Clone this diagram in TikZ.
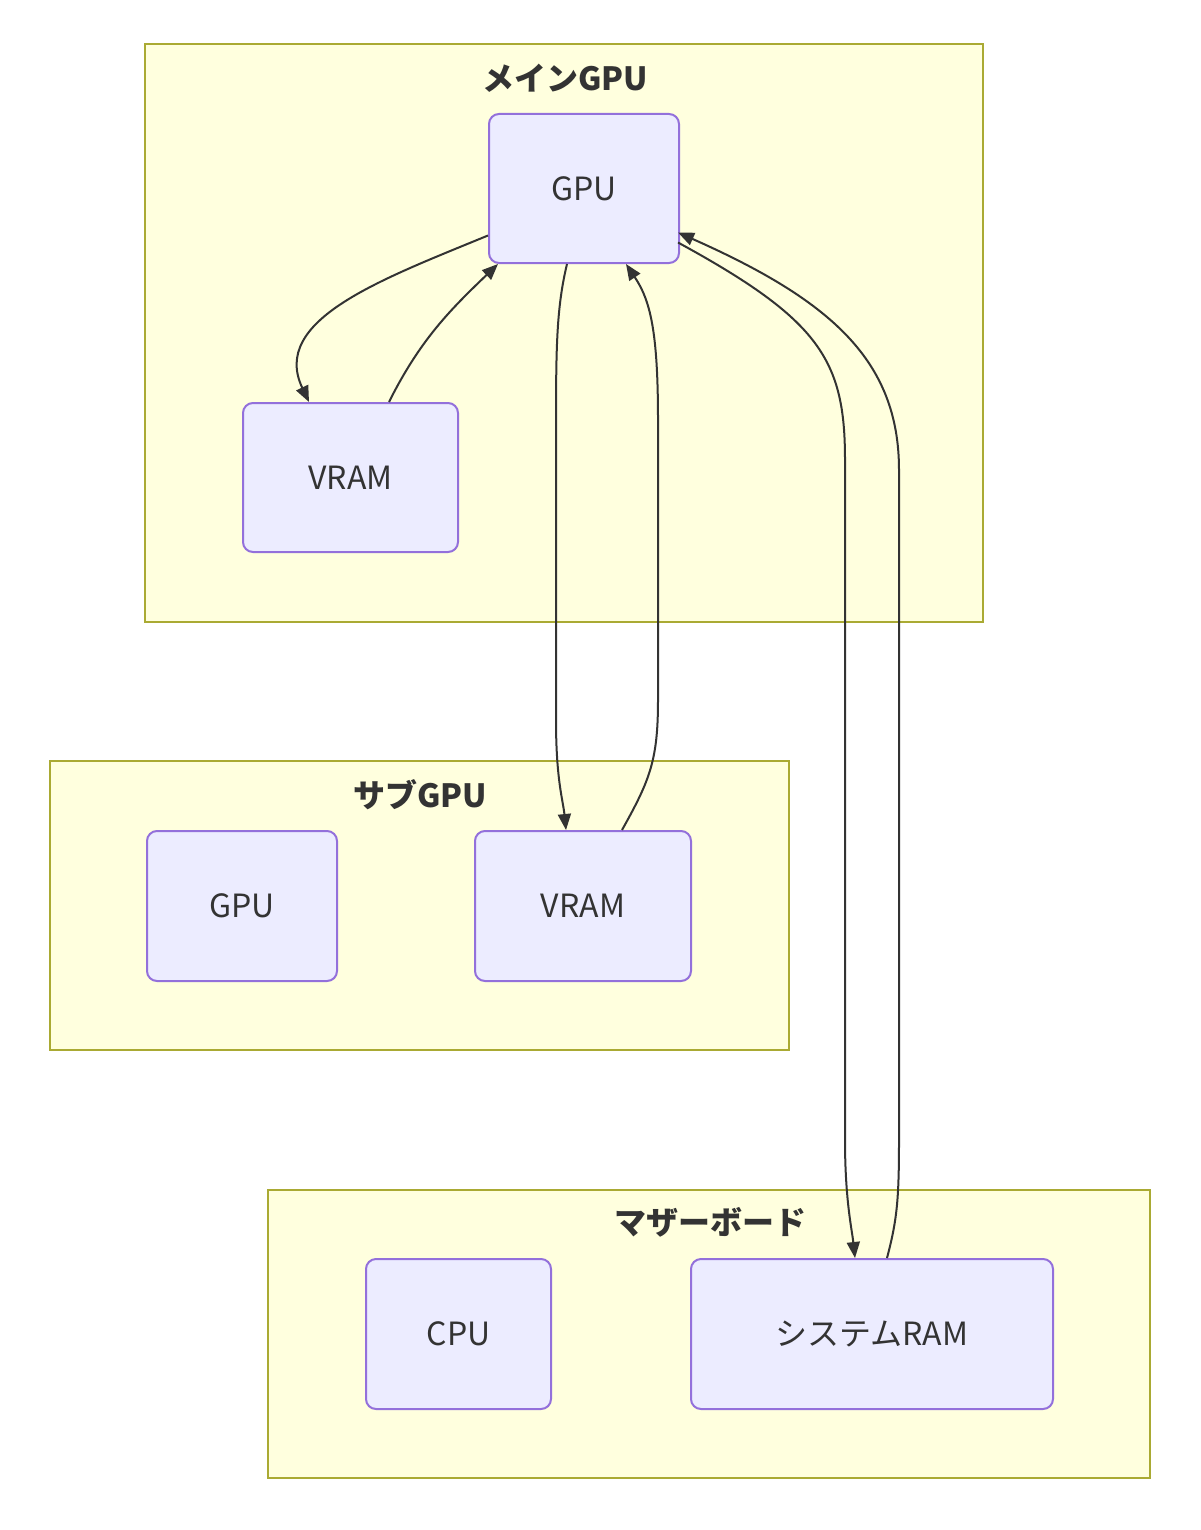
\documentclass[tikz,border=0pt]{standalone}
\usepackage{fontspec}
\setmainfont{Noto Sans CJK JP}
\usetikzlibrary{calc,arrows.meta}
\definecolor{nfill}{HTML}{ECECFF}
\definecolor{nstroke}{HTML}{9370DB}
\definecolor{cfill}{HTML}{FFFFDE}
\definecolor{cstroke}{HTML}{AAAA33}
\definecolor{txt}{HTML}{333333}
\begin{document}
\begin{tikzpicture}[x=1pt,y=-1pt,
  box/.style={draw=nstroke,fill=nfill,line width=2pt,rounded corners=10pt,inner sep=0pt,font=\fontsize{32}{36}\selectfont,text=txt},
  clus/.style={draw=cstroke,fill=cfill,line width=2pt},
  ctitle/.style={font=\fontsize{32}{36}\selectfont\bfseries,text=txt},
  edge/.style={draw=txt,line width=2pt,-{Triangle[length=16pt,width=13pt]}}]
\useasboundingbox[fill=white] (0,0) rectangle (1200,1530);
% clusters
\draw[clus] (145,44) rectangle (983,622);
\node[ctitle] (t1) at (565,78) {メインGPU};
\draw[clus] (50,761) rectangle (789,1050);
\node[ctitle] (t2) at (420,795) {サブGPU};
\draw[clus] (268,1190) rectangle (1150,1478);
\node[ctitle] (t3) at (710,1222) {マザーボード};
% nodes
\node[box,minimum width=190pt,minimum height=149pt] (gpu) at (584,188.5) {GPU};
\node[box,minimum width=215pt,minimum height=149pt] (vram) at (350.5,477.5) {VRAM};
\node[box,minimum width=190pt,minimum height=150pt] (sgpu) at (242,906) {GPU};
\node[box,minimum width=216pt,minimum height=150pt] (svram) at (583,906) {VRAM};
\node[box,minimum width=185pt,minimum height=150pt] (cpu) at (458.5,1334) {CPU};
\node[box,minimum width=362pt,minimum height=150pt] (ram) at (872,1334) {システムRAM};
% edges
\draw[edge] ($(gpu.west)+(0,47)$) .. controls (380,280) and (270,320) .. ($(vram.north west)+(67,0)$);
\draw[edge] ($(vram.north west)+(147,0)$) .. controls (420,340) and (450,310) .. ($(gpu.south west)+(10,0)$);
\draw[edge] ($(gpu.south)+(-17,0)$) .. controls (556,310) and (556,350) .. (556,440) -- (556,720) .. controls (556,780) and (563,800) .. ($(svram.north)+(-17,0)$);
\draw[edge] ($(svram.north)+(39,0)$) .. controls (650,780) and (658,760) .. (658,700) -- (658,420) .. controls (658,330) and (650,300) .. ($(gpu.south)+(42,0)$);
\draw[edge] ($(gpu.east)+(-2,54)$) .. controls (820,320) and (845,360) .. (845,460) -- (845,1140) .. controls (845,1200) and (852,1230) .. ($(ram.north)+(-17,0)$);
\draw[edge] ($(ram.north)+(15,0)$) .. controls (897,1220) and (899,1200) .. (899,1140) -- (899,470) .. controls (899,360) and (830,300) .. ($(gpu.east)+(-2,44)$);
\end{tikzpicture}
\end{document}
